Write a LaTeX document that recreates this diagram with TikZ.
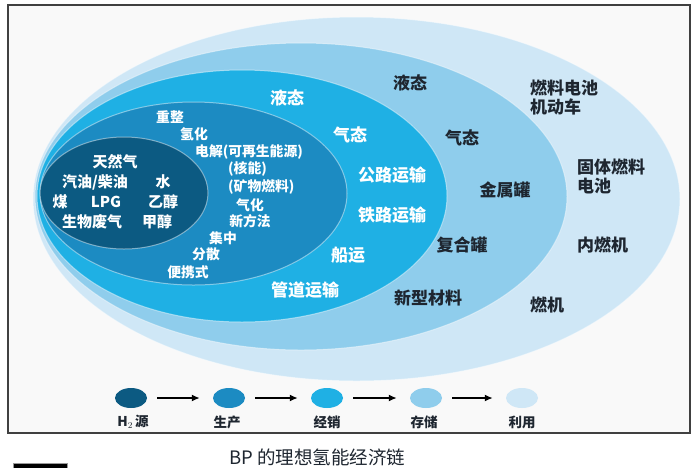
\documentclass[tikz,border=0pt]{standalone}
\usepackage{fontspec}
\newfontfamily\cjk{Noto Sans CJK SC}
\usetikzlibrary{shapes.geometric,arrows.meta}
\definecolor{cA}{HTML}{0C5A82}
\definecolor{cB}{HTML}{1C8BC2}
\definecolor{cC}{HTML}{1FB0E4}
\definecolor{cD}{HTML}{8FCDEC}
\definecolor{cE}{HTML}{CFE7F6}
\definecolor{dk}{HTML}{1E2630}
\definecolor{framebg}{HTML}{F9F9F9}
\tikzset{
  layer/.style={draw=white, draw opacity=0.45, line width=1pt},
  tin/.style={inner sep=0pt, text=white, font=\cjk\bfseries\fontsize{15}{15}\selectfont},
  tpr/.style={inner sep=0pt, text=white, font=\cjk\bfseries\fontsize{13.8}{14}\selectfont},
  tds/.style={inner sep=0pt, text=white, font=\cjk\bfseries\fontsize{17}{17}\selectfont},
  tst/.style={inner sep=0pt, text=dk, font=\cjk\bfseries\fontsize{17}{17}\selectfont},
  tus/.style={inner sep=0pt, text=dk, font=\cjk\bfseries\fontsize{17}{17}\selectfont, anchor=west},
  legdot/.style={ellipse, minimum width=32pt, minimum height=20pt, inner sep=0pt},
  legtxt/.style={inner sep=0pt, text=dk, font=\cjk\bfseries\fontsize{13.5}{13.5}\selectfont},
  legarr/.style={-{Latex[length=8pt,width=7pt]}, line width=2pt, black, shorten <=10pt, shorten >=13pt}
}
\begin{document}
\begin{tikzpicture}[x=1pt,y=-1pt]
\useasboundingbox (0,0) rectangle (700,467);
\fill[white] (0,0) rectangle (700,467);
% frame
\draw[line width=1.6pt, draw=black!75, fill=framebg] (8,5) rectangle (690,433);
% nested layers
\fill[cE][layer] (356.5,199) ellipse [x radius=323.5, y radius=182];
\fill[cD][layer] (301,196.5) ellipse [x radius=266, y radius=153.5];
\fill[cC][layer] (242,196) ellipse [x radius=205, y radius=126];
\fill[cB][layer] (193.5,193.5) ellipse [x radius=153.5, y radius=91.5];
\fill[cA][layer] (124,193) ellipse [x radius=84, y radius=56];
% H2 source texts
\node[tin] (s1) at (115,162) {天然气};
\node[tin] (s2) at (95,182) {汽油/柴油};
\node[tin] (s3) at (163,182) {水};
\node[tin] (s4) at (60,202) {煤};
\node[tin] (s5) at (106,202) {LPG};
\node[tin] (s6) at (163,202) {乙醇};
\node[tin] (s7) at (92,222) {生物废气};
\node[tin] (s8) at (157,222) {甲醇};
% production texts
\node[tpr] (p1) at (170,117) {重整};
\node[tpr] (p2) at (194,134) {氢化};
\node[tpr, anchor=west] (p3) at (195,152) {电解(可再生能源)};
\node[tpr, anchor=west] (p4) at (228,169) {(核能)};
\node[tpr, anchor=west] (p5) at (228,187) {(矿物燃料)};
\node[tpr] (p6) at (250,205) {气化};
\node[tpr] (p7) at (250,221) {新方法};
\node[tpr] (p8) at (223,238) {集中};
\node[tpr] (p9) at (206,254) {分散};
\node[tpr] (p10) at (188,272) {便携式};
% distribution texts
\node[tds] (d1) at (287,98) {液态};
\node[tds] (d2) at (350,135) {气态};
\node[tds] (d3) at (392,175) {公路运输};
\node[tds] (d4) at (392,215) {铁路运输};
\node[tds] (d5) at (348,255) {船运};
\node[tds] (d6) at (305,290) {管道运输};
% storage texts
\node[tst] (t1) at (410,83) {液态};
\node[tst] (t2) at (462,138) {气态};
\node[tst] (t3) at (505,190) {金属罐};
\node[tst] (t4) at (462,245) {复合罐};
\node[tst] (t5) at (428,298) {新型材料};
% utilization texts
\node[tus] (u1) at (530,88) {燃料电池};
\node[tus] (u2) at (530,107) {机动车};
\node[tus] (u3) at (577,167) {固体燃料};
\node[tus] (u4) at (577,186) {电池};
\node[tus] (u5) at (577,245) {内燃机};
\node[tus] (u6) at (530,305) {燃机};
% legend
\node[legdot, fill=cA] (L1) at (131,398) {};
\node[legdot, fill=cB] (L2) at (229,398) {};
\node[legdot, fill=cC] (L3) at (327,398) {};
\node[legdot, fill=cD] (L4) at (426,398) {};
\node[legdot, fill=cE] (L5) at (522,398) {};
\draw[legarr] (L1) -- (L2);
\draw[legarr] (L2) -- (L3);
\draw[legarr] (L3) -- (L4);
\draw[legarr] (L4) -- (L5);
\node[legtxt] (g1) at (133,422) {H$_2$\,源};
\node[legtxt] (g2) at (227,422) {生产};
\node[legtxt] (g3) at (327,422) {经销};
\node[legtxt] (g4) at (424,422) {存储};
\node[legtxt] (g5) at (522,422) {利用};
% caption
\node[inner sep=0pt, text=dk, font=\cjk\fontsize{18.5}{18.5}\selectfont] (cap) at (317,457) {BP 的理想氢能经济链};
% cut-off mark at bottom-left
\draw[draw=black!40, fill=black, line width=1pt] (13,463) rectangle (67,470);
\end{tikzpicture}
\end{document}
